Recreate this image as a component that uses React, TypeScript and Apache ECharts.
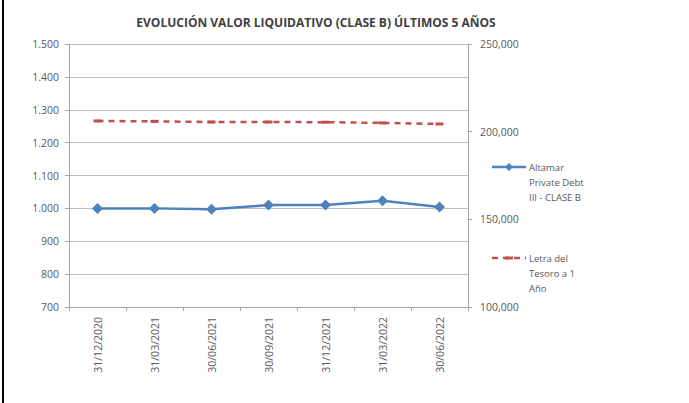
import React, { useEffect, useRef } from "react";
import * as echarts from "echarts";

const categories = ["31/12/2020", "31/03/2021", "30/06/2021", "30/09/2021", "31/12/2021", "31/03/2022", "30/06/2022"];
const fundName = "Altamar Private Debt III - CLASE B";
const benchName = "Letra del Tesoro a 1 Año";
const fundLegendLines = ["Altamar", "Private Debt", "III - CLASE B"];
const benchLegendLines = ["Letra del", "Tesoro a 1", "Año"];
const fundValues = [1000, 1000, 997, 1010, 1010, 1023, 1004];
const benchValues = [206100, 205900, 205500, 205500, 205400, 205000, 204400];
const titleText = "EVOLUCIÓN VALOR LIQUIDATIVO (CLASE B) ÚLTIMOS 5 AÑOS";

const FONT = "'Open Sans', sans-serif";
const BLUE = "#4F81BD";
const RED = "#C0504D";
const TXT = "#595959";

export default function App() {
  const ref = useRef<HTMLDivElement>(null);
  useEffect(() => {
    if (!ref.current) return;
    const chart = echarts.init(ref.current, null, { renderer: "svg" });
    const legendText = (lines: string[], x: number, y: number) =>
      lines.map((t, i) => ({
        type: "text",
        x,
        y: y + i * 15,
        style: { text: t, fontFamily: FONT, fontSize: 9.5, fill: TXT, textVerticalAlign: "middle", textAlign: "left" },
      }));
    chart.setOption({
      animation: false,
      backgroundColor: "#ffffff",
      title: {
        text: titleText,
        left: 311,
        textAlign: "center",
        top: 11,
        textStyle: { fontFamily: FONT, fontSize: 12, fontWeight: "bold", color: "#404040" },
      },
      graphic: [
        { type: "rect", shape: { x: 2, y: 0, width: 2, height: 403 }, style: { fill: "#000000" } },
        { type: "line", shape: { x1: 492, y1: 167, x2: 526, y2: 167 }, style: { stroke: BLUE, lineWidth: 2.5 } },
        { type: "polygon", shape: { points: [[509, 163], [513, 167], [509, 171], [505, 167]] }, style: { fill: BLUE } },
        ...legendText(fundLegendLines, 529, 167),
        { type: "line", shape: { x1: 492, y1: 258, x2: 526, y2: 258 }, style: { stroke: RED, lineWidth: 2.5, lineDash: [6, 5] } },
        { type: "rect", shape: { x: 505, y: 256.5, width: 8, height: 3 }, style: { fill: RED } },
        ...legendText(benchLegendLines, 529, 258),
      ],
      legend: { show: false, data: [fundName, benchName] },
      grid: { left: 69, right: 221, top: 44, bottom: 96, containLabel: false },
      xAxis: {
        type: "category",
        data: categories,
        boundaryGap: true,
        axisLine: { lineStyle: { color: "#A6A6A6" } },
        axisTick: { show: true, lineStyle: { color: "#A6A6A6" }, length: 4 },
        axisLabel: { rotate: 90, fontFamily: FONT, fontSize: 10.5, color: TXT, margin: 10 },
      },
      yAxis: [
        {
          type: "value",
          min: 700,
          max: 1500,
          interval: 100,
          position: "left",
          axisLine: { show: true, lineStyle: { color: "#A6A6A6" } },
          axisTick: { show: true, length: 4, lineStyle: { color: "#A6A6A6" } },
          splitLine: { lineStyle: { color: "#BFBFBF" } },
          axisLabel: {
            fontFamily: FONT,
            fontSize: 10.5,
            color: TXT,
            margin: 10,
            formatter: (v: number) => (v >= 1000 ? Math.floor(v / 1000) + "." + String(v % 1000).padStart(3, "0") : String(v)),
          },
        },
        {
          type: "value",
          min: 100000,
          max: 250000,
          interval: 50000,
          position: "right",
          axisLine: { show: true, lineStyle: { color: "#A6A6A6" } },
          axisTick: { show: true, length: 4, lineStyle: { color: "#A6A6A6" } },
          splitLine: { show: false },
          axisLabel: {
            fontFamily: FONT,
            fontSize: 10.5,
            color: TXT,
            margin: 12,
            formatter: (v: number) => Math.floor(v / 1000) + ",000",
          },
        },
      ],
      series: [
        {
          name: fundName,
          type: "line",
          yAxisIndex: 0,
          data: fundValues,
          symbol: "diamond",
          symbolSize: 11,
          lineStyle: { color: BLUE, width: 2.5 },
          itemStyle: { color: BLUE },
        },
        {
          name: benchName,
          type: "line",
          yAxisIndex: 1,
          data: benchValues,
          symbol: "rect",
          symbolSize: [8, 3],
          lineStyle: { color: RED, width: 2.5, type: [6, 5] },
          itemStyle: { color: RED },
        },
      ],
    });
    return () => chart.dispose();
  }, []);
  return <div ref={ref} style={{ position: "fixed", left: 0, top: 0, width: 689, height: 403 }} />;
}
